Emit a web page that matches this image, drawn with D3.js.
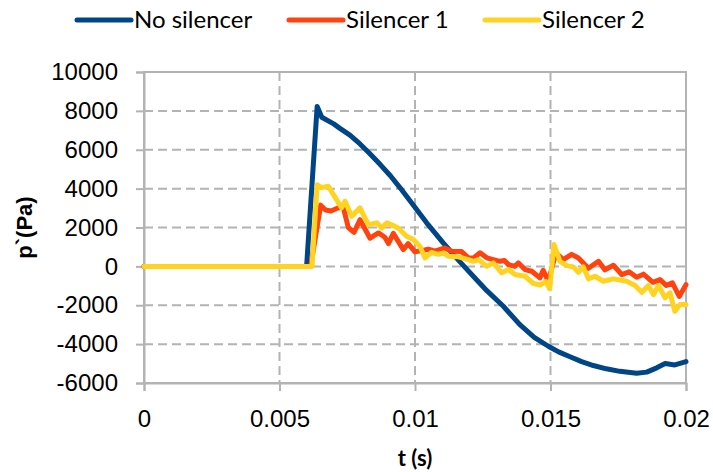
<!DOCTYPE html>
<html>
<head>
<meta charset="utf-8">
<script src="https://cdn.jsdelivr.net/npm/d3@7"></script>
<style>
  html, body { margin: 0; padding: 0; background: #ffffff; }
  svg { display: block; }
</style>
</head>
<body>
<svg id="chart" width="713" height="472"></svg>
<script>
// Series names and colours
const seriesNames = ["No silencer", "Silencer 1", "Silencer 2"];
const seriesColors = ["#004586", "#ff420e", "#ffd320"];

// No silencer: time (s) and pressure fluctuation (Pa)
const tNoSilencer = [0, 0.006, 0.00639, 0.00656, 0.0070, 0.00723, 0.0076, 0.00797, 0.0083, 0.00871,
  0.0091, 0.00945, 0.00997, 0.01043, 0.01104, 0.01166, 0.01228, 0.01265, 0.01326, 0.01387,
  0.0144, 0.01492, 0.0153, 0.01572, 0.01615, 0.01658, 0.01706, 0.01756, 0.01818, 0.01855,
  0.01892, 0.01923, 0.01959, 0.0200];
const pNoSilencer = [0, 0, 8230, 7670, 7330, 7100, 6750, 6300, 5850, 5250,
  4650, 4040, 3090, 2240, 1210, 230, -700, -1250, -2050, -3000,
  -3650, -4110, -4400, -4650, -4900, -5100, -5270, -5400, -5500, -5440,
  -5220, -5000, -5070, -4900];

// Silencer 1
const tSilencer1 = [0, 0.00615, 0.00652, 0.0067, 0.0069, 0.00715, 0.00735, 0.00754, 0.00775, 0.00797,
  0.00834, 0.00865, 0.00889, 0.00902, 0.0092, 0.00957, 0.00975, 0.0100, 0.01025, 0.01049,
  0.01074, 0.0111, 0.01135, 0.01172, 0.01197, 0.01215, 0.0124, 0.01265, 0.01289, 0.01314,
  0.0133, 0.01345, 0.01369, 0.01381, 0.01406, 0.01431, 0.01461, 0.01473, 0.01492, 0.0152,
  0.01547, 0.01578, 0.01603, 0.0164, 0.01677, 0.01701, 0.01732, 0.01763, 0.0179, 0.01818,
  0.01843, 0.01878, 0.01904, 0.01927, 0.0195, 0.01975, 0.0200];
const pSilencer1 = [0, 0, 3150, 2900, 2850, 3000, 3050, 2000, 1750, 2400,
  1450, 1720, 1500, 1170, 1700, 860, 1170, 750, 810, 880,
  780, 950, 780, 760, 440, 420, 700, 440, 350, 260,
  300, 90, 0, 180, -165, -250, -590, -200, -770, 700,
  350, 620, 430, -100, 260, -180, 60, -420, -280, -560,
  -400, -820, -680, -980, -850, -1550, -940];

// Silencer 2
const tSilencer2 = [0, 0.0062, 0.00639, 0.00655, 0.0068, 0.00729, 0.00742, 0.00766, 0.00797, 0.00828,
  0.00859, 0.00877, 0.00896, 0.00926, 0.0094, 0.00969, 0.00994, 0.01018, 0.01037, 0.01061,
  0.01086, 0.01105, 0.01123, 0.0116, 0.01197, 0.01215, 0.01234, 0.01265, 0.01289, 0.0132,
  0.01345, 0.01369, 0.01406, 0.01437, 0.01461, 0.01483, 0.01497, 0.01513, 0.01535, 0.0156,
  0.01584, 0.01603, 0.01621, 0.0164, 0.01664, 0.01695, 0.01732, 0.01781, 0.01812, 0.01837,
  0.01861, 0.0188, 0.01898, 0.01923, 0.01941, 0.01959, 0.01978, 0.0200];
const pSilencer2 = [0, 0, 4200, 4050, 4120, 3010, 3350, 2580, 3010, 2150,
  2240, 1980, 2240, 2060, 1950, 1550, 1380, 1030, 437, 720,
  620, 700, 520, 490, 350, 262, 350, 0, 180, -334,
  -165, -420, -509, -880, -960, -780, -1150, 1120, 262, 41,
  -26, -303, -26, -643, -509, -766, -643, -766, -988, -1332,
  -988, -1450, -988, -1620, -1363, -2310, -1965, -1965];

// Axis ticks and labels
const xTickValues = [0, 0.005, 0.01, 0.015, 0.02];
const xTickLabels = ["0", "0.005", "0.01", "0.015", "0.02"];
const yTickValues = [-6000, -4000, -2000, 0, 2000, 4000, 6000, 8000, 10000];
const yTickLabels = ["-6000", "-4000", "-2000", "0", "2000", "4000", "6000", "8000", "10000"];
const xTitle = "t (s)";
const yTitle = "p`(Pa)";

const seriesT = [tNoSilencer, tSilencer1, tSilencer2];
const seriesP = [pNoSilencer, pSilencer1, pSilencer2];

const svg = d3.select("#chart");
const plot = { left: 144, right: 686, top: 72, bottom: 383 };

const x = d3.scaleLinear().domain([0, 0.02]).range([plot.left, plot.right]);
const y = d3.scaleLinear().domain([-6000, 10000]).range([plot.bottom, plot.top]);

const gridColor = "#b3b3b3";
const labelFont = "'Liberation Sans', Arial, sans-serif";
const legendFont = "Lato, 'Open Sans', sans-serif";

// Dashed gridlines
const grid = svg.append("g");
grid.selectAll("line.h")
  .data(yTickValues.slice(1, -1))
  .join("line")
  .attr("x1", plot.left).attr("x2", plot.right)
  .attr("y1", d => y(d)).attr("y2", d => y(d))
  .attr("stroke", gridColor).attr("stroke-width", 2)
  .attr("stroke-dasharray", "9,5");
grid.selectAll("line.v")
  .data(xTickValues.slice(1, -1))
  .join("line")
  .attr("y1", plot.top).attr("y2", plot.bottom)
  .attr("x1", d => x(d)).attr("x2", d => x(d))
  .attr("stroke", gridColor).attr("stroke-width", 2)
  .attr("stroke-dasharray", "9,5");

// Plot frame
svg.append("rect")
  .attr("x", plot.left).attr("y", plot.top)
  .attr("width", plot.right - plot.left).attr("height", plot.bottom - plot.top)
  .attr("fill", "none").attr("stroke", gridColor).attr("stroke-width", 2);

// Axes
const xAxis = d3.axisBottom(x)
  .tickValues(xTickValues)
  .tickFormat((d, i) => xTickLabels[i])
  .tickSize(8).tickPadding(19);
const yAxis = d3.axisLeft(y)
  .tickValues(yTickValues)
  .tickFormat((d, i) => yTickLabels[i])
  .tickSize(8).tickPadding(18);

const gx = svg.append("g").attr("transform", `translate(0,${plot.bottom})`).call(xAxis);
const gy = svg.append("g").attr("transform", `translate(${plot.left},0)`).call(yAxis);
[gx, gy].forEach(g => {
  g.select(".domain").attr("stroke", gridColor).attr("stroke-width", 2);
  g.selectAll(".tick line").attr("stroke", gridColor).attr("stroke-width", 2);
  g.selectAll(".tick text")
    .attr("fill", "#000")
    .style("font-family", labelFont)
    .style("font-size", "24px");
});

// Axis titles
svg.append("text")
  .attr("x", (plot.left + plot.right) / 2)
  .attr("y", 466)
  .attr("text-anchor", "middle")
  .style("font-family", legendFont)
  .style("font-weight", "bold")
  .style("font-size", "22px")
  .text(xTitle);
svg.append("text")
  .attr("transform", `translate(32,${(plot.top + plot.bottom) / 2}) rotate(-90)`)
  .attr("text-anchor", "middle")
  .style("font-family", labelFont)
  .style("font-weight", "bold")
  .style("font-size", "22px")
  .text(yTitle);

// Series lines
const line = d3.line()
  .x(d => x(d[0]))
  .y(d => y(d[1]));
seriesNames.forEach((name, i) => {
  const pts = seriesT[i].map((t, k) => [t, seriesP[i][k]]);
  svg.append("path")
    .datum(pts)
    .attr("fill", "none")
    .attr("stroke", seriesColors[i])
    .attr("stroke-width", 5)
    .attr("stroke-linejoin", "round")
    .attr("stroke-linecap", "round")
    .attr("d", line);
});

// Legend
const legendX = [77, 289, 485];
const legendY = 20;
const legend = svg.append("g");
seriesNames.forEach((name, i) => {
  legend.append("line")
    .attr("x1", legendX[i]).attr("x2", legendX[i] + 54)
    .attr("y1", legendY).attr("y2", legendY)
    .attr("stroke", seriesColors[i]).attr("stroke-width", 5)
    .attr("stroke-linecap", "round");
  legend.append("text")
    .attr("x", legendX[i] + 57)
    .attr("y", legendY)
    .attr("dy", "0.35em")
    .style("font-family", legendFont)
    .style("font-size", "24px")
    .attr("fill", "#000")
    .text(name);
});
</script>
</body>
</html>
